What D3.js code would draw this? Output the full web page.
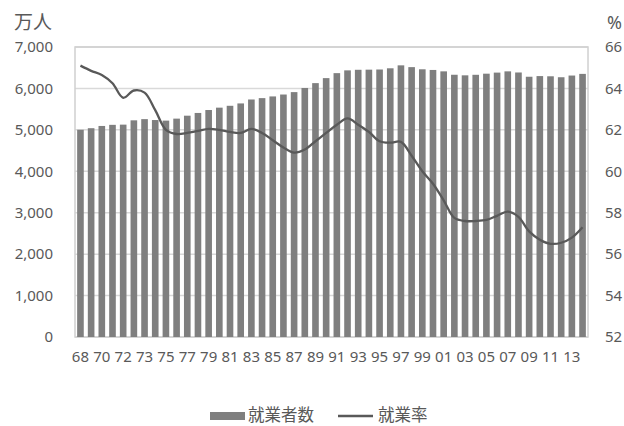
<!DOCTYPE html>
<html>
<head>
<meta charset="utf-8">
<script src="https://cdn.jsdelivr.net/npm/d3@7"></script>
<style>
  html, body { margin: 0; padding: 0; background: #fff; }
  svg { display: block; }
  text { fill: #595959; }
</style>
</head>
<body>
<svg id="chart" width="624" height="426"></svg>
<script>
// Year labels (1972 appears twice: before and after Okinawa's inclusion)
const years = ["68","69","70","71","72","72","73","74","75","76","77","78","79","80",
  "81","82","83","84","85","86","87","88","89","90","91","92","93","94","95","96",
  "97","98","99","00","01","02","03","04","05","06","07","08","09","10","11","12",
  "13","14"];

// 就業者数 (万人)
const employed = [5002,5040,5094,5121,5126,5230,5259,5237,5223,5271,5342,5408,5479,5536,
  5581,5638,5733,5766,5807,5853,5911,6011,6128,6249,6369,6436,6450,6453,6457,6486,
  6557,6514,6462,6446,6412,6330,6316,6329,6356,6382,6412,6385,6282,6298,6293,6270,
  6311,6351];

// 就業率 (%)
const rate = [65.1,64.85,64.65,64.25,63.55,63.9,63.8,62.95,62.0,61.8,61.85,61.95,62.05,62.0,
  61.9,61.85,62.05,61.85,61.5,61.15,60.9,61.05,61.45,61.85,62.25,62.55,62.25,61.9,61.45,61.38,
  61.42,60.75,60.0,59.4,58.6,57.75,57.6,57.6,57.65,57.85,58.05,57.8,57.1,56.7,56.5,56.55,
  56.8,57.3];

const leftTicks = [0,1000,2000,3000,4000,5000,6000,7000];
const rightTicks = [52,54,56,58,60,62,64,66];

const svg = d3.select("#chart");
const m = { left: 75, right: 588, top: 47, bottom: 337 };
const font = "'Noto Sans', 'DejaVu Sans', sans-serif";
const jpFont = "'Noto Sans CJK JP', sans-serif";

const x = d3.scaleBand()
  .domain(d3.range(years.length))
  .range([m.left, m.right])
  .paddingInner(0.38)
  .paddingOuter(0.2);

const yL = d3.scaleLinear().domain([0, 7000]).range([m.bottom, m.top]);
const yR = d3.scaleLinear().domain([52, 66]).range([m.bottom, m.top]);

// gridlines
svg.append("g")
  .selectAll("line")
  .data(leftTicks)
  .join("line")
  .attr("x1", m.left).attr("x2", m.right)
  .attr("y1", d => yL(d)).attr("y2", d => yL(d))
  .attr("stroke", "#d9d9d9").attr("stroke-width", 1.5);

// plot frame
svg.append("rect")
  .attr("x", m.left).attr("y", m.top)
  .attr("width", m.right - m.left).attr("height", m.bottom - m.top)
  .attr("fill", "none").attr("stroke", "#d0d0d0").attr("stroke-width", 1.5);

// bars
svg.append("g")
  .selectAll("rect")
  .data(employed)
  .join("rect")
  .attr("x", (d, i) => x(i))
  .attr("width", x.bandwidth())
  .attr("y", d => yL(d))
  .attr("height", d => yL(0) - yL(d))
  .attr("fill", "#7f7f7f");

// employment-rate line
const line = d3.line()
  .x((d, i) => x(i) + x.bandwidth() / 2)
  .y(d => yR(d))
  .curve(d3.curveCatmullRom.alpha(0.5));

svg.append("path")
  .datum(rate)
  .attr("d", line)
  .attr("fill", "none")
  .attr("stroke", "#595959")
  .attr("stroke-width", 2.3)
  .attr("stroke-linejoin", "round");

// left axis
const axL = svg.append("g")
  .attr("transform", `translate(${m.left},0)`)
  .call(d3.axisLeft(yL).tickValues(leftTicks).tickFormat(d3.format(",")).tickSize(0).tickPadding(22));
axL.select(".domain").remove();
axL.selectAll("text").attr("font-family", font).attr("font-size", 15).attr("fill", "#595959");

// right axis
const axR = svg.append("g")
  .attr("transform", `translate(${m.right},0)`)
  .call(d3.axisRight(yR).tickValues(rightTicks).tickSize(0).tickPadding(17));
axR.select(".domain").remove();
axR.selectAll("text").attr("font-family", font).attr("font-size", 15).attr("fill", "#595959");

// bottom axis
const axB = svg.append("g")
  .attr("transform", `translate(0,${m.bottom})`)
  .call(d3.axisBottom(x)
    .tickValues(d3.range(0, years.length, 2))
    .tickFormat(i => years[i])
    .tickSize(0).tickPadding(14));
axB.select(".domain").remove();
axB.selectAll("text").attr("font-family", font).attr("font-size", 15).attr("fill", "#595959");

// unit labels
svg.append("text").attr("x", 14).attr("y", 29)
  .attr("font-family", jpFont).attr("font-size", 19).text("万人");
svg.append("text").attr("x", 607).attr("y", 29)
  .attr("font-family", font).attr("font-size", 18).text("%");

// legend
const lg = svg.append("g").attr("transform", "translate(0,416)");
lg.append("rect").attr("x", 210).attr("y", -4).attr("width", 35).attr("height", 8).attr("fill", "#7f7f7f");
lg.append("text").attr("x", 248).attr("y", 5)
  .attr("font-family", jpFont).attr("font-size", 16.5).text("就業者数");
lg.append("line").attr("x1", 338).attr("x2", 373).attr("y1", 0).attr("y2", 0)
  .attr("stroke", "#595959").attr("stroke-width", 2.3);
lg.append("text").attr("x", 378).attr("y", 5)
  .attr("font-family", jpFont).attr("font-size", 16.5).text("就業率");
</script>
</body>
</html>
